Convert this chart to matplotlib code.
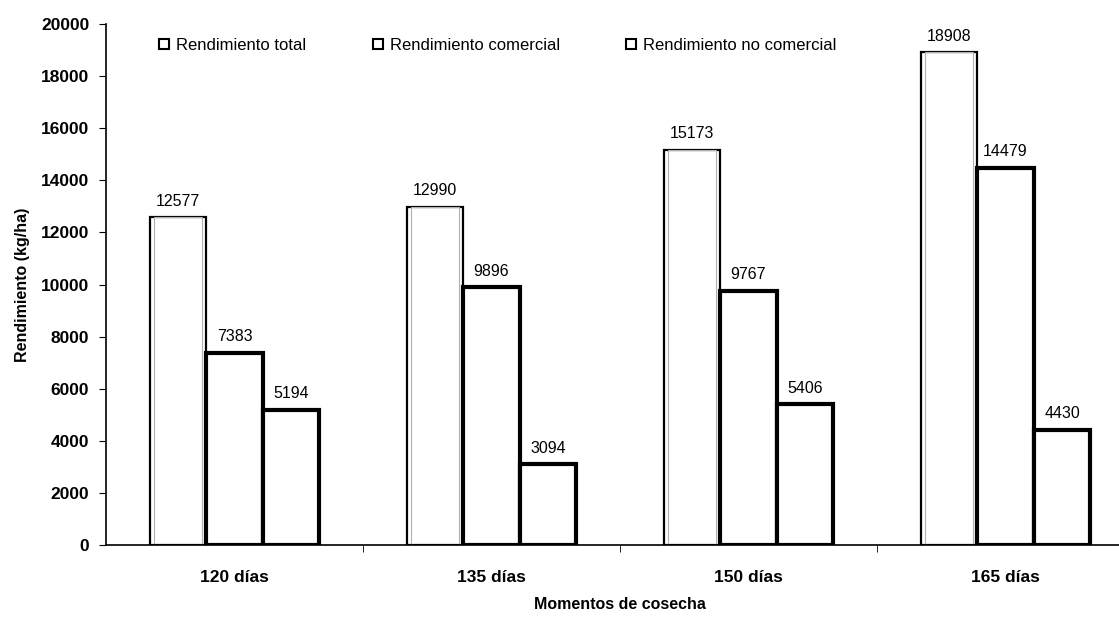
import matplotlib.pyplot as plt
import numpy as np

plt.rcParams['font.family'] = ['Liberation Sans', 'DejaVu Sans']

# Yield per harvest time (kg/ha)
momentos = ["120 días", "135 días", "150 días", "165 días"]
total = [12577, 12990, 15173, 18908]
comercial = [7383, 9896, 9767, 14479]
no_comercial = [5194, 3094, 5406, 4430]
series_names = ["Rendimiento total", "Rendimiento comercial", "Rendimiento no comercial"]

fig = plt.figure(figsize=(11.19, 6.27), dpi=100)
ax = fig.add_axes([0.0947, 0.1308, 0.9187, 0.8309])

x = np.arange(len(momentos))
w = 0.22

b1 = ax.bar(x - w, total, w, color='white', edgecolor='black', linewidth=1.6, label=series_names[0])
b2 = ax.bar(x, comercial, w, color='white', edgecolor='black', linewidth=3.0, label=series_names[1])
b3 = ax.bar(x + w, no_comercial, w, color='white', edgecolor='black', linewidth=3.0, label=series_names[2])

# faint inner line on the total bars
ax.bar(x - w, total, w * 0.86, color='none', edgecolor='#b0b0b0', linewidth=0.8)

for bars, vals in ((b1, total), (b2, comercial), (b3, no_comercial)):
    for rect, v in zip(bars, vals):
        ax.annotate(str(v), (rect.get_x() + rect.get_width() / 2, v),
                    xytext=(0, 6), textcoords='offset points',
                    ha='center', va='bottom', fontsize=11.5)

ax.set_xlim(-0.5, len(momentos) - 0.5)
ax.set_ylim(0, 20000)
ax.set_yticks(np.arange(0, 20001, 2000))
ax.set_xticks(x)
ax.set_xticklabels(momentos)
ax.set_xticks(np.arange(0.5, len(momentos) - 0.5, 1), minor=True)
ax.tick_params(axis='x', which='major', length=0, pad=18)
ax.tick_params(axis='x', which='minor', length=5, direction='out')
ax.tick_params(axis='y', length=5, direction='out', pad=7)
for lbl in ax.get_xticklabels() + ax.get_yticklabels():
    lbl.set_fontweight('bold')
    lbl.set_fontsize(12.5)

for s in ('top', 'right'):
    ax.spines[s].set_visible(False)
ax.spines['left'].set_linewidth(1.2)
ax.spines['bottom'].set_linewidth(1.2)

ax.set_ylabel("Rendimiento (kg/ha)", fontweight='bold', fontsize=11.5, labelpad=8)
ax.set_xlabel("Momentos de cosecha", fontweight='bold', fontsize=11.5, labelpad=9)

leg = ax.legend(loc='upper left', bbox_to_anchor=(0.135, 0.953), bbox_transform=fig.transFigure,
                ncol=3, frameon=False, fontsize=12, handlelength=0.6, handleheight=0.6,
                handletextpad=0.4, columnspacing=4.0, borderpad=0)
for h in leg.legend_handles:
    h.set_linewidth(1.5)

fig.savefig("out.png", dpi=100)
